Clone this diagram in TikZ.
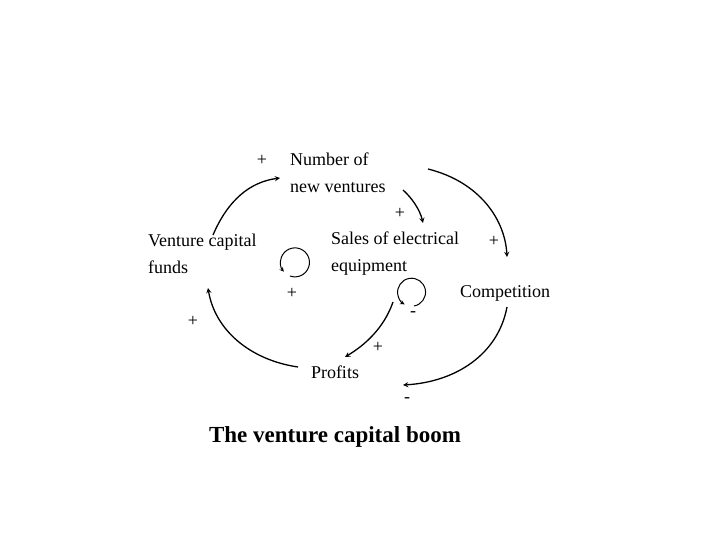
\documentclass[tikz,border=0pt]{standalone}
\usepackage{fontspec}
\setmainfont{Liberation Serif}
\begin{document}
\begin{tikzpicture}[x=1pt,y=-1pt,
  t/.style={font=\fontsize{18}{27}\selectfont,inner sep=0pt,align=left},
  s/.style={font=\fontsize{18}{20}\selectfont,inner sep=0pt},
  a/.style={->,>=stealth,line width=1.3pt}]
\useasboundingbox (0,0) rectangle (720,540);
\node[t,anchor=west] (nv) at (290,173) {Number of\\new ventures};
\node[t,anchor=west] (vc) at (148,254) {Venture capital\\funds};
\node[t,anchor=west] (se) at (331,254) {Sales of electrical\\equipment};
\node[t] (co) at (505,293) {Competition};
\node[t] (pr) at (335,372) {Profits};
\node[s] (p1) at (262,160) {+};
\node[s] (p2) at (400,213) {+};
\node[s] (p3) at (494,241) {+};
\node[s] (p4) at (292,293) {+};
\node[s] (p5) at (193,321) {+};
\node[s] (m1) at (413,314) {-};
\node[s] (p6) at (378,347) {+};
\node[s] (m2) at (407,400) {-};
\node[font=\fontsize{23}{26}\selectfont\bfseries,inner sep=0pt] (ti) at (335,437) {The venture capital boom};
\coordinate (a1) at (213,235); \coordinate (b1) at (280,178);
\coordinate (a2) at (403,190); \coordinate (b2) at (423,223);
\coordinate (a3) at (428,169); \coordinate (b3) at (507,257);
\coordinate (a4) at (507,307); \coordinate (b4) at (403,385);
\coordinate (a5) at (393,302); \coordinate (b5) at (345,357);
\coordinate (a6) at (298,367); \coordinate (b6) at (208,288);
\draw[a] (a1) .. controls (228,200) and (250,182) .. (b1);
\draw[a] (a2) .. controls (412,198) and (420,210) .. (b2);
\draw[a] (a3) .. controls (480,182) and (505,220) .. (b3);
\draw[a] (a4) .. controls (498,355) and (455,382) .. (b4);
\draw[a] (a5) .. controls (384,328) and (365,345) .. (b5);
\draw[a] (a6) .. controls (250,360) and (215,330) .. (b6);
\draw[a,line width=1pt] (290,276) arc[start angle=110,end angle=-220,radius=14.5];
\draw[a,line width=1pt] (414,306) arc[start angle=80,end angle=-240,radius=14];
\end{tikzpicture}
\end{document}
